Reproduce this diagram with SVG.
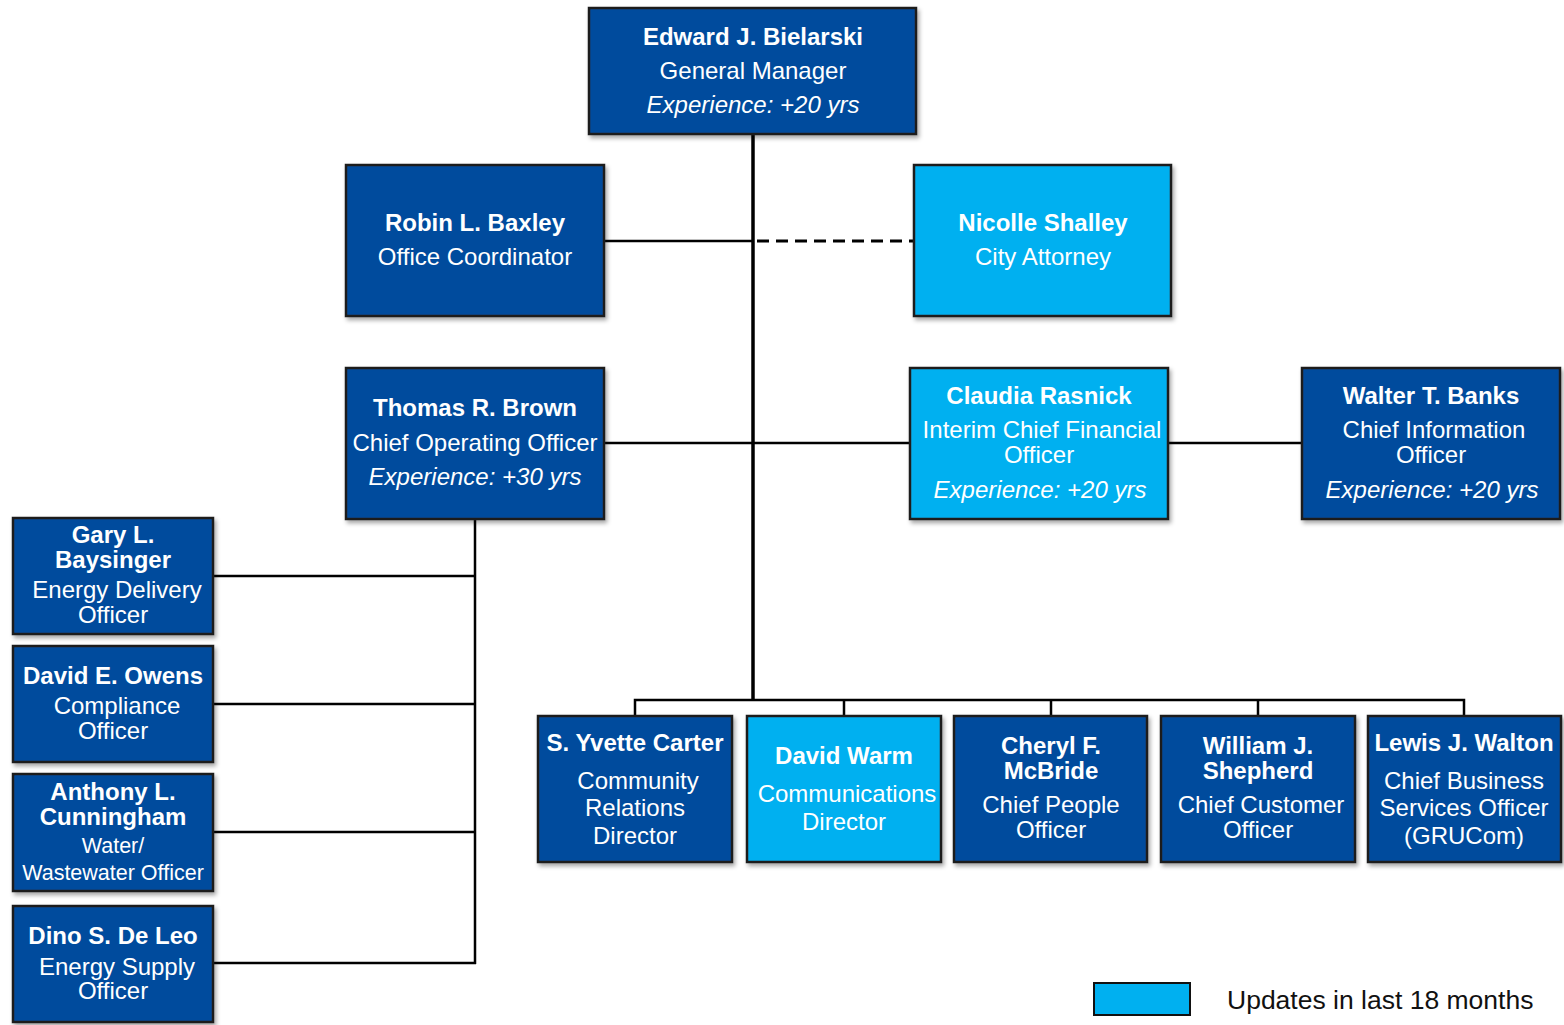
<svg xmlns="http://www.w3.org/2000/svg" width="1564" height="1025" viewBox="0 0 1564 1025">
<defs>
<filter id="sh" x="-10%" y="-10%" width="125%" height="125%">
<feDropShadow dx="2" dy="3" stdDeviation="2" flood-color="#000" flood-opacity="0.35"/>
</filter>
<style>
.dk{fill:#034C9D;stroke:#1c1c1c;stroke-width:2.5;filter:url(#sh)}
.lt{fill:#00B0F0;stroke:#1c1c1c;stroke-width:2.5;filter:url(#sh)}
text{font-family:"Liberation Sans",Arial,sans-serif;fill:#fff;font-size:24px;text-anchor:middle}
.b{font-weight:bold}
.i{font-style:italic}
.ln{stroke:#000;stroke-width:2.5;fill:none}
.tr{stroke:#000;stroke-width:3.5;fill:none}
</style>
</defs>
<rect width="1564" height="1025" fill="#fff"/>
<g id="connectors">
<line class="tr" x1="753" y1="134" x2="753" y2="701"/>
<line class="ln" x1="604" y1="241" x2="753" y2="241"/>
<line class="ln" x1="757" y1="241" x2="914" y2="241" stroke-dasharray="12,7" style="stroke-width:3"/>
<line class="ln" x1="604" y1="443" x2="910" y2="443"/>
<line class="ln" x1="1168" y1="443" x2="1302" y2="443"/>
<line class="ln" x1="475" y1="519" x2="475" y2="964"/>
<line class="ln" x1="213" y1="576" x2="475" y2="576"/>
<line class="ln" x1="213" y1="704" x2="475" y2="704"/>
<line class="ln" x1="213" y1="832" x2="475" y2="832"/>
<line class="ln" x1="213" y1="963" x2="476" y2="963"/>
<polyline class="ln" points="635,716 635,700 1464,700 1464,716"/>
<line class="ln" x1="844" y1="700" x2="844" y2="716"/>
<line class="ln" x1="1051" y1="700" x2="1051" y2="716"/>
<line class="ln" x1="1258" y1="700" x2="1258" y2="716"/>
</g>
<g id="bielarski">
<rect class="dk" x="589" y="8" width="327" height="126"/>
<text class="b" x="753" y="45">Edward J. Bielarski</text>
<text x="753" y="79">General Manager</text>
<text class="i" x="753" y="113">Experience: +20 yrs</text>
</g>
<g id="baxley">
<rect class="dk" x="346" y="165" width="258" height="151"/>
<text class="b" x="475" y="231">Robin L. Baxley</text>
<text x="475" y="265">Office Coordinator</text>
</g>
<g id="shalley">
<rect class="lt" x="914" y="165" width="257" height="151"/>
<text class="b" x="1043" y="231">Nicolle Shalley</text>
<text x="1043" y="265">City Attorney</text>
</g>
<g id="brown">
<rect class="dk" x="346" y="368" width="258" height="151"/>
<text class="b" x="475" y="416">Thomas R. Brown</text>
<text x="475" y="451">Chief Operating Officer</text>
<text class="i" x="475" y="485">Experience: +30 yrs</text>
</g>
<g id="rasnick">
<rect class="lt" x="910" y="368" width="258" height="151"/>
<text class="b" x="1039" y="404">Claudia Rasnick</text>
<text x="1042" y="438">Interim Chief Financial</text>
<text x="1039" y="463">Officer</text>
<text class="i" x="1040" y="498">Experience: +20 yrs</text>
</g>
<g id="banks">
<rect class="dk" x="1302" y="368" width="258" height="151"/>
<text class="b" x="1431" y="404">Walter T. Banks</text>
<text x="1434" y="438">Chief Information</text>
<text x="1431" y="463">Officer</text>
<text class="i" x="1432" y="498">Experience: +20 yrs</text>
</g>
<g id="baysinger">
<rect class="dk" x="13" y="518" width="200" height="116"/>
<text class="b" x="113" y="543">Gary L.</text>
<text class="b" x="113" y="568">Baysinger</text>
<text x="117" y="598">Energy Delivery</text>
<text x="113" y="623">Officer</text>
</g>
<g id="owens">
<rect class="dk" x="13" y="646" width="200" height="116"/>
<text class="b" x="113" y="684">David E. Owens</text>
<text x="117" y="714">Compliance</text>
<text x="113" y="739">Officer</text>
</g>
<g id="cunningham">
<rect class="dk" x="13" y="774" width="200" height="117"/>
<text class="b" x="113" y="800">Anthony L.</text>
<text class="b" x="113" y="825">Cunningham</text>
<text x="113" y="853" style="font-size:21.5px">Water/</text>
<text x="113" y="880" style="font-size:21.5px">Wastewater Officer</text>
</g>
<g id="deleo">
<rect class="dk" x="13" y="906" width="200" height="116"/>
<text class="b" x="113" y="944">Dino S. De Leo</text>
<text x="117" y="975">Energy Supply</text>
<text x="113" y="999">Officer</text>
</g>
<g id="carter">
<rect class="dk" x="538" y="716" width="194" height="146"/>
<text class="b" x="635" y="751">S. Yvette Carter</text>
<text x="638" y="789">Community</text>
<text x="635" y="816">Relations</text>
<text x="635" y="844">Director</text>
</g>
<g id="warm">
<rect class="lt" x="747" y="716" width="194" height="146"/>
<text class="b" x="844" y="764">David Warm</text>
<text x="847" y="802">Communications</text>
<text x="844" y="830">Director</text>
</g>
<g id="mcbride">
<rect class="dk" x="954" y="716" width="193" height="146"/>
<text class="b" x="1051" y="754">Cheryl F.</text>
<text class="b" x="1051" y="779">McBride</text>
<text x="1051" y="813">Chief People</text>
<text x="1051" y="838">Officer</text>
</g>
<g id="shepherd">
<rect class="dk" x="1161" y="716" width="194" height="146"/>
<text class="b" x="1258" y="754">William J.</text>
<text class="b" x="1258" y="779">Shepherd</text>
<text x="1261" y="813">Chief Customer</text>
<text x="1258" y="838">Officer</text>
</g>
<g id="walton">
<rect class="dk" x="1368" y="716" width="193" height="146"/>
<text class="b" x="1464" y="751">Lewis J. Walton</text>
<text x="1464" y="789">Chief Business</text>
<text x="1464" y="816">Services Officer</text>
<text x="1464" y="844">(GRUCom)</text>
</g>
<g id="legend">
<rect x="1094" y="983" width="96" height="32" fill="#00B0F0" stroke="#111" stroke-width="2"/>
<text x="1227" y="1009" style="fill:#111;font-size:26.5px;text-anchor:start">Updates in last 18 months</text>
</g>
</svg>
